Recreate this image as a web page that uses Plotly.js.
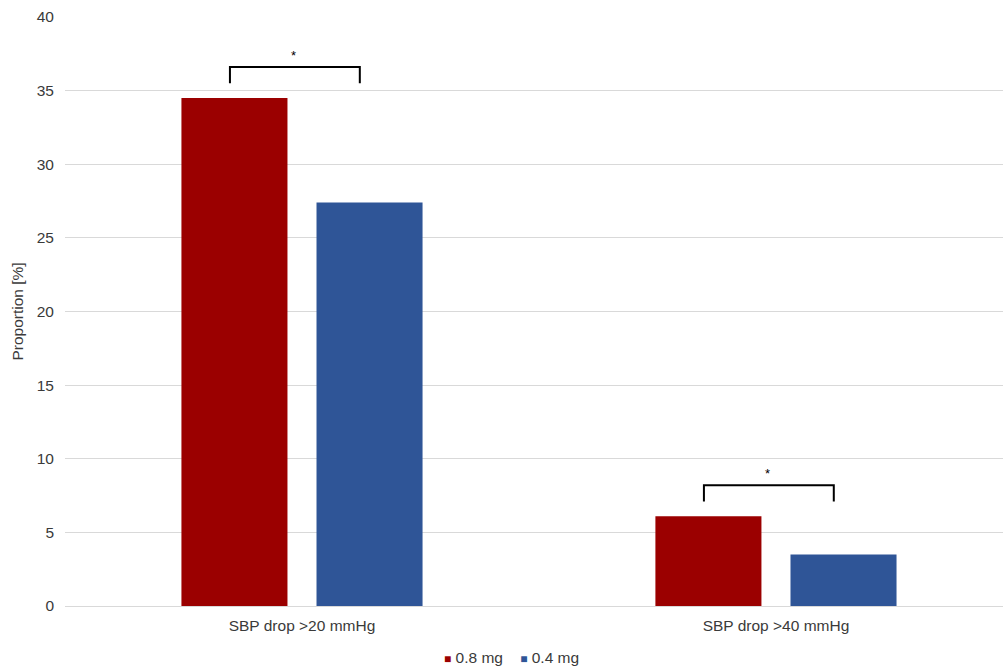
<!DOCTYPE html>
<html>
<head>
<meta charset="utf-8">
<script src="https://cdn.plot.ly/plotly-3.0.1.min.js"></script>
<style>html,body{margin:0;padding:0;background:#fff;}#chart{width:1003px;height:669px;}</style>
</head>
<body>
<div id="chart"></div>
<script>
var categories = ['SBP drop >20 mmHg', 'SBP drop >40 mmHg'];
var dose08 = [34.5, 6.1];
var dose04 = [27.4, 3.5];
var seriesNames = ['0.8 mg', '0.4 mg'];
var seriesColors = ['#9b0000', '#2f5597'];
var sigLabels = ['*', '*'];
var yTicks = [0, 5, 10, 15, 20, 25, 30, 35, 40];

var font = 'Liberation Sans, Arial, sans-serif';
var textColor = '#3a3a3a';

var traces = [
  {type: 'bar', name: seriesNames[0], x: categories, y: dose08, marker: {color: seriesColors[0]}, showlegend: false},
  {type: 'bar', name: seriesNames[1], x: categories, y: dose04, marker: {color: seriesColors[1]}, showlegend: false}
];

var shapes = [];
var annotations = [];
categories.forEach(function (c, i) {
  var top = Math.max(dose08[i], dose04[i]) + 2.1;
  var leg = top - 1.1;
  var xl = i - 0.152, xr = i + 0.122;
  shapes.push({type: 'path', xref: 'x', yref: 'y',
    path: 'M ' + xl + ',' + leg + ' L ' + xl + ',' + top + ' L ' + xr + ',' + top + ' L ' + xr + ',' + leg,
    line: {color: '#000', width: 2}});
  annotations.push({xref: 'x', yref: 'y', x: i - 0.017, y: top + 0.8, text: sigLabels[i],
    showarrow: false, font: {family: font, size: 13, color: '#000'}});
});

// legend built as text with coloured squares
var legendText = seriesNames.map(function (n, i) {
  return '<span style="color:' + seriesColors[i] + ';font-size:12px">\u25A0</span> ' + n;
}).join('    ');
annotations.push({xref: 'paper', yref: 'paper', x: 0.4765, y: -0.0866, xanchor: 'center', yanchor: 'middle',
  text: legendText, showarrow: false, font: {family: font, size: 15.5, color: textColor}});

var layout = {
  width: 1003, height: 669,
  margin: {l: 65, r: 0, t: 17, b: 63},
  paper_bgcolor: '#fff', plot_bgcolor: '#fff',
  font: {family: font, size: 15.5, color: textColor},
  barmode: 'group', bargap: 0.43, bargroupgap: 0.215,
  xaxis: {type: 'category', range: [-0.5, 1.479], showgrid: false, zeroline: false, showline: false,
    ticks: '', ticklabelstandoff: 8, tickfont: {family: font, size: 15.5, color: textColor}},
  yaxis: {range: [0, 40], tickvals: yTicks, showgrid: true, gridcolor: '#d9d9d9', gridwidth: 1,
    zeroline: true, zerolinecolor: '#d9d9d9', zerolinewidth: 1, showline: false, ticks: '',
    ticklabelstandoff: 10,
    tickfont: {family: font, size: 15.5, color: textColor},
    title: {text: 'Proportion [%]', font: {family: font, size: 15.5, color: textColor}, standoff: 9}},
  showlegend: false,
  shapes: shapes,
  annotations: annotations
};

Plotly.newPlot('chart', traces, layout, {displayModeBar: false, staticPlot: true});
</script>
</body>
</html>
